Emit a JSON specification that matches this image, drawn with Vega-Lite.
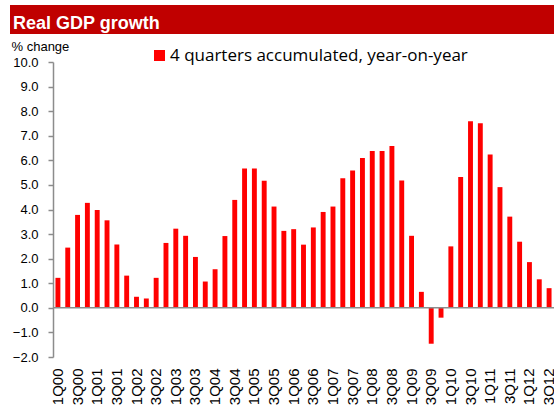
{
  "$schema": "https://vega.github.io/schema/vega-lite/v6.json",
  "padding": {"left": 10, "top": 5, "right": 0, "bottom": 0},
  "columns": 1,
  "align": "none",
  "spacing": 6,
  "config": {"font": "Liberation Sans", "view": {"stroke": null}},
  "concat": [
    {
      "width": 544,
      "height": 29,
      "view": {"fill": "#C00000", "stroke": null},
      "title": {"text": "Real GDP growth", "anchor": "start", "orient": "top", "offset": -28, "dx": 3, "color": "#FFFFFF", "font": "Liberation Sans", "fontSize": 18, "fontWeight": "bold"},
      "data": {"values": [{"band": "title"}]},
      "mark": {"type": "rect", "color": "#C00000"},
      "encoding": {}
    },
    {
      "spacing": 0,
      "hconcat": [
        {
          "width": 1,
          "height": 295,
          "data": {"values": []},
          "mark": {"type": "rect"},
          "encoding": {}
        },
        {
          "width": 501,
          "height": 295,
          "data": {"values": [
            {"q": "1Q00", "v": 1.22}, {"q": "2Q00", "v": 2.45}, {"q": "3Q00", "v": 3.78}, {"q": "4Q00", "v": 4.27},
            {"q": "1Q01", "v": 3.98}, {"q": "2Q01", "v": 3.56}, {"q": "3Q01", "v": 2.58}, {"q": "4Q01", "v": 1.31},
            {"q": "1Q02", "v": 0.45}, {"q": "2Q02", "v": 0.38}, {"q": "3Q02", "v": 1.22}, {"q": "4Q02", "v": 2.64},
            {"q": "1Q03", "v": 3.22}, {"q": "2Q03", "v": 2.93}, {"q": "3Q03", "v": 2.07}, {"q": "4Q03", "v": 1.07},
            {"q": "1Q04", "v": 1.57}, {"q": "2Q04", "v": 2.92}, {"q": "3Q04", "v": 4.39}, {"q": "4Q04", "v": 5.67},
            {"q": "1Q05", "v": 5.67}, {"q": "2Q05", "v": 5.17}, {"q": "3Q05", "v": 4.12}, {"q": "4Q05", "v": 3.13},
            {"q": "1Q06", "v": 3.2}, {"q": "2Q06", "v": 2.57}, {"q": "3Q06", "v": 3.27}, {"q": "4Q06", "v": 3.9},
            {"q": "1Q07", "v": 4.12}, {"q": "2Q07", "v": 5.27}, {"q": "3Q07", "v": 5.59}, {"q": "4Q07", "v": 6.09},
            {"q": "1Q08", "v": 6.38}, {"q": "2Q08", "v": 6.38}, {"q": "3Q08", "v": 6.58}, {"q": "4Q08", "v": 5.18},
            {"q": "1Q09", "v": 2.93}, {"q": "2Q09", "v": 0.65}, {"q": "3Q09", "v": -1.46}, {"q": "4Q09", "v": -0.4},
            {"q": "1Q10", "v": 2.5}, {"q": "2Q10", "v": 5.32}, {"q": "3Q10", "v": 7.59}, {"q": "4Q10", "v": 7.51},
            {"q": "1Q11", "v": 6.24}, {"q": "2Q11", "v": 4.91}, {"q": "3Q11", "v": 3.71}, {"q": "4Q11", "v": 2.69},
            {"q": "1Q12", "v": 1.86}, {"q": "2Q12", "v": 1.16}, {"q": "3Q12", "v": 0.8}
          ]},
          "layer": [
            {
              "mark": {"type": "bar", "color": "#FF0000"},
              "encoding": {
                "x": {
                  "field": "q", "type": "nominal", "sort": null,
                  "scale": {"paddingInner": 0.5, "paddingOuter": 0.25},
                  "axis": {
                    "title": null,
                    "values": ["1Q00","3Q00","1Q01","3Q01","1Q02","3Q02","1Q03","3Q03","1Q04","3Q04","1Q05","3Q05","1Q06","3Q06","1Q07","3Q07","1Q08","3Q08","1Q09","3Q09","1Q10","3Q10","1Q11","3Q11","1Q12","3Q12"],
                    "labelAngle": -90, "domain": false, "ticks": false, "tickSize": 0, "labelOverlap": false,
                    "labelPadding": 11, "labelFontSize": 15, "labelColor": "#000000", "labelFont": "Liberation Sans"
                  }
                },
                "y": {
                  "field": "v", "type": "quantitative",
                  "scale": {"domain": [-2, 10], "nice": false, "zero": false},
                  "axis": {
                    "title": "% change", "titleAngle": 0, "titleAlign": "left", "titleBaseline": "alphabetic",
                    "titleX": -42, "titleY": -12, "titleFontSize": 13, "titleFontWeight": "normal", "titleColor": "#000000",
                    "values": [-2, -1, 0, 1, 2, 3, 4, 5, 6, 7, 8, 9, 10], "format": ".1f", "labelOverlap": false,
                    "grid": false, "domainColor": "#8C8C8C", "domainWidth": 1.5, "tickColor": "#8C8C8C", "tickWidth": 1.5, "tickSize": 5,
                    "labelPadding": 10, "labelFontSize": 13, "labelColor": "#000000"
                  }
                },
                "color": {
                  "datum": "4 quarters accumulated, year-on-year",
                  "scale": {"range": ["#FF0000"]},
                  "legend": {
                    "title": null, "orient": "none", "legendX": 141, "legendY": 42,
                    "symbolType": "square", "symbolSize": 121, "symbolStrokeWidth": 0,
                    "labelFont": "Open Sans", "labelFontSize": 17, "labelColor": "#000000", "labelOffset": 2, "padding": 0, "labelLimit": 400
                  }
                }
              }
            },
            {
              "data": {"values": [{"zero": 0}]},
              "mark": {"type": "rule", "color": "#8C8C8C", "strokeWidth": 1.5},
              "encoding": {
                "y": {
                  "field": "zero", "type": "quantitative",
                  "scale": {"domain": [-2, 10], "nice": false, "zero": false},
                  "axis": {
                    "title": "% change", "titleAngle": 0, "titleAlign": "left", "titleBaseline": "alphabetic",
                    "titleX": -42, "titleY": -12, "titleFontSize": 13, "titleFontWeight": "normal", "titleColor": "#000000",
                    "values": [-2, -1, 0, 1, 2, 3, 4, 5, 6, 7, 8, 9, 10], "format": ".1f", "labelOverlap": false,
                    "grid": false, "domainColor": "#8C8C8C", "domainWidth": 1.5, "tickColor": "#8C8C8C", "tickWidth": 1.5, "tickSize": 5,
                    "labelPadding": 10, "labelFontSize": 13, "labelColor": "#000000"
                  }
                }
              }
            }
          ]
        }
      ]
    }
  ]
}
